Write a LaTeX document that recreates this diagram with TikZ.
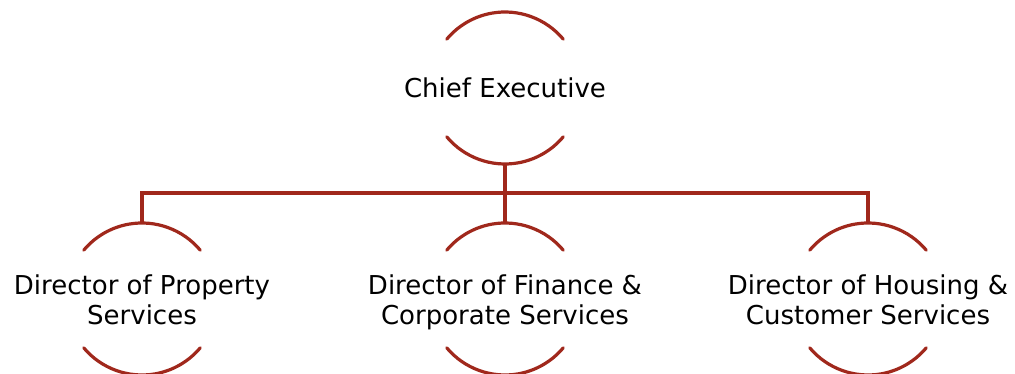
\documentclass[tikz,border=0pt]{standalone}
\usepackage{fontspec}
\setmainfont{DejaVu Sans}
\definecolor{brick}{RGB}{160,40,28}
\tikzset{
  ring/.style={circle, minimum size=152pt, inner sep=0pt, draw=none},
  arcline/.style={draw=brick, line width=3.2pt, line cap=round},
  conn/.style={draw=brick, line width=3.2pt},
  label/.style={align=center, inner sep=0pt, font=\fontsize{26}{30}\selectfont}
}
\begin{document}
\begin{tikzpicture}
\useasboundingbox (0pt,0pt) rectangle (1015pt,374pt);
% rings
\node[ring] (ce) at (505pt,286pt) {};
\node[ring] (c1) at (142pt,75pt) {};
\node[ring] (c2) at (505pt,75pt) {};
\node[ring] (c3) at (868pt,75pt) {};
\foreach \n in {ce,c1,c2,c3}{
  \draw[arcline] ([shift={(40:76pt)}]\n.center) arc[start angle=40, end angle=140, radius=76pt];
  \draw[arcline] ([shift={(220:76pt)}]\n.center) arc[start angle=220, end angle=320, radius=76pt];
}
% texts
\node[label, anchor=base] (tce) at ([yshift=-10pt]ce.center) {Chief Executive};
\node[label, anchor=base] (t1) at ([yshift=-26pt]c1.center) {Director of Property\\Services};
\node[label, anchor=base] (t2) at ([yshift=-26pt]c2.center) {Director of Finance \&\\Corporate Services};
\node[label, anchor=base] (t3) at ([yshift=-26pt]c3.center) {Director of Housing \&\\Customer Services};
% connectors
\coordinate (bar) at (505pt,181pt);
\draw[conn] (ce.south) -- (ce.south |- bar);
\draw[conn] (c1.north) -- (c1.north |- bar) -- (c3.north |- bar) -- (c3.north);
\draw[conn] (c2.north) -- (c2.north |- bar);
\end{tikzpicture}
\end{document}
